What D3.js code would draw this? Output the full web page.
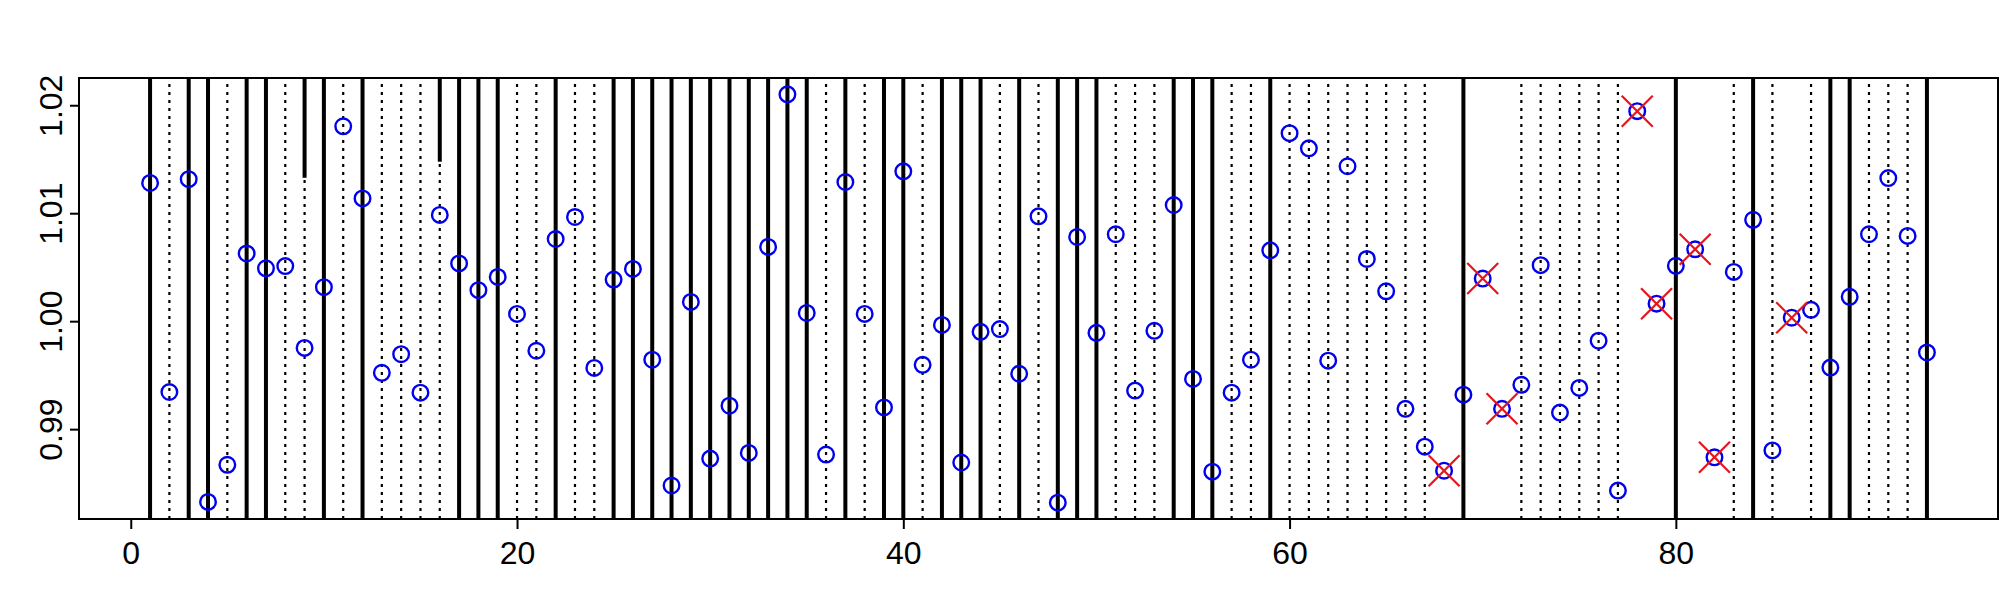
<!DOCTYPE html>
<html>
<head>
<meta charset="utf-8">
<script src="https://cdn.jsdelivr.net/npm/d3@7"></script>
<style>
  html, body { margin: 0; padding: 0; background: #fff; }
  svg { display: block; }
  text { font-family: "Liberation Sans", Arial, sans-serif; }
</style>
</head>
<body>
<svg id="chart" width="2000" height="600"></svg>
<script>
// ---- data ----
const values = [
  1.0128, 0.99344, 1.01315, 0.98326, 0.9867, 1.00627, 1.0049, 1.0051, 0.99752, 1.00315,
  1.01805, 1.01137, 0.99522, 0.99694, 0.99338, 1.00984, 1.00535, 1.00287, 1.0041, 1.00067,
  0.99726, 1.00761, 1.00965, 0.99567, 1.00385, 1.00484, 0.99643, 0.98478, 1.00178, 0.98727,
  0.99217, 0.9878, 1.00688, 1.02101, 1.00076, 0.98765, 1.01289, 1.00067, 0.99201, 1.01388,
  0.99596, 0.99965, 0.98691, 0.99901, 0.99927, 0.99513, 1.00971, 0.98319, 1.0078, 0.99892,
  1.00805, 0.99357, 0.99911, 1.01076, 0.99465, 0.98606, 0.99338, 0.99643, 1.00656, 1.01741,
  1.01601, 0.99634, 1.01435, 1.00576, 1.00277, 0.99188, 0.98838, 0.98615, 0.99319, 1.00395,
  0.99188, 0.99411, 1.00519, 0.99153, 0.99382, 0.99819, 0.98431, 1.01945, 1.00162, 1.00513,
  1.00666, 0.98739, 1.00456, 1.00939, 0.98803, 1.00032, 1.00105, 0.9957, 1.00226, 1.00805,
  1.01325, 1.0079, 0.9971
];
const index = values.map((v, i) => i + 1);
const solidX = [1,3,4,6,7,10,12,17,18,19,22,25,26,27,28,29,30,31,32,33,34,35,37,39,40,42,43,44,46,48,49,50,54,55,56,59,69,80,84,88,89,93];
const dottedX = [2,5,8,9,11,13,14,15,16,20,21,23,24,36,38,41,45,47,51,52,53,57,58,60,61,62,63,64,65,66,67,72,73,74,75,76,77,83,85,87,90,91,92];
const flaggedX = [68,70,71,78,79,81,82,86];
const partialX = [9, 16];
const partialFrom = [1.01328, 1.01477];
const xTicks = [0, 20, 40, 60, 80];
const yTicks = [0.99, 1.00, 1.01, 1.02];

// ---- layout ----
const pLeft = 79, pRight = 1998, pTop = 78, pBottom = 519;
const svg = d3.select("#chart");

function rExtend([a, b]) { const d = (b - a) * 0.04; return [a - d, b + d]; }
const x = d3.scaleLinear().domain(rExtend(d3.extent(index))).range([pLeft, pRight]);
const y = d3.scaleLinear().domain(rExtend(d3.extent(values))).range([pBottom, pTop]);

// dotted lines
svg.append("g").selectAll("line").data(dottedX).join("line")
  .attr("x1", d => x(d)).attr("x2", d => x(d))
  .attr("y1", pBottom).attr("y2", pTop)
  .attr("stroke", "#000").attr("stroke-width", 2.2)
  .attr("stroke-dasharray", "3,5");

// solid lines
svg.append("g").selectAll("line").data(solidX).join("line")
  .attr("x1", d => x(d)).attr("x2", d => x(d))
  .attr("y1", pBottom).attr("y2", pTop)
  .attr("stroke", "#000").attr("stroke-width", 4);

// partial solid lines
svg.append("g").selectAll("line").data(partialX).join("line")
  .attr("x1", d => x(d)).attr("x2", d => x(d))
  .attr("y1", (d, i) => y(partialFrom[i])).attr("y2", pTop)
  .attr("stroke", "#000").attr("stroke-width", 4);

// points
svg.append("g").selectAll("circle").data(values).join("circle")
  .attr("cx", (d, i) => x(index[i])).attr("cy", d => y(d))
  .attr("r", 7.8).attr("fill", "none")
  .attr("stroke", "#0000ee").attr("stroke-width", 2.4);

// flagged crosses
const cs = 15.5;
const fl = svg.append("g").attr("stroke", "#e8141c").attr("stroke-width", 2.2);
flaggedX.forEach(fx => {
  const cx = x(fx), cy = y(values[fx - 1]);
  fl.append("line").attr("x1", cx - cs).attr("y1", cy - cs).attr("x2", cx + cs).attr("y2", cy + cs);
  fl.append("line").attr("x1", cx - cs).attr("y1", cy + cs).attr("x2", cx + cs).attr("y2", cy - cs);
});

// border
svg.append("rect").attr("x", pLeft).attr("y", pTop)
  .attr("width", pRight - pLeft).attr("height", pBottom - pTop)
  .attr("fill", "none").attr("stroke", "#000").attr("stroke-width", 2);

// x axis
const xAxis = d3.axisBottom(x).tickValues(xTicks).tickSize(10).tickPadding(12).tickFormat(d3.format("d"));
const gx = svg.append("g").attr("transform", `translate(0,${pBottom})`).call(xAxis);
gx.select(".domain").remove();
gx.selectAll(".tick line").attr("stroke-width", 2);
gx.selectAll("text").attr("font-size", 32).attr("font-family", "Liberation Sans, Arial, sans-serif").attr("fill", "#000");

// y axis
const yAxis = d3.axisLeft(y).tickValues(yTicks).tickSize(9).tickFormat(d3.format(".2f"));
const gy = svg.append("g").attr("transform", `translate(${pLeft},0)`).call(yAxis);
gy.select(".domain").remove();
gy.selectAll(".tick line").attr("stroke-width", 2);
gy.selectAll("text")
  .attr("font-size", 32).attr("font-family", "Liberation Sans, Arial, sans-serif").attr("fill", "#000")
  .attr("x", null).attr("dy", null)
  .attr("text-anchor", "middle")
  .attr("transform", "translate(-17,0) rotate(-90)");
</script>
</body>
</html>
